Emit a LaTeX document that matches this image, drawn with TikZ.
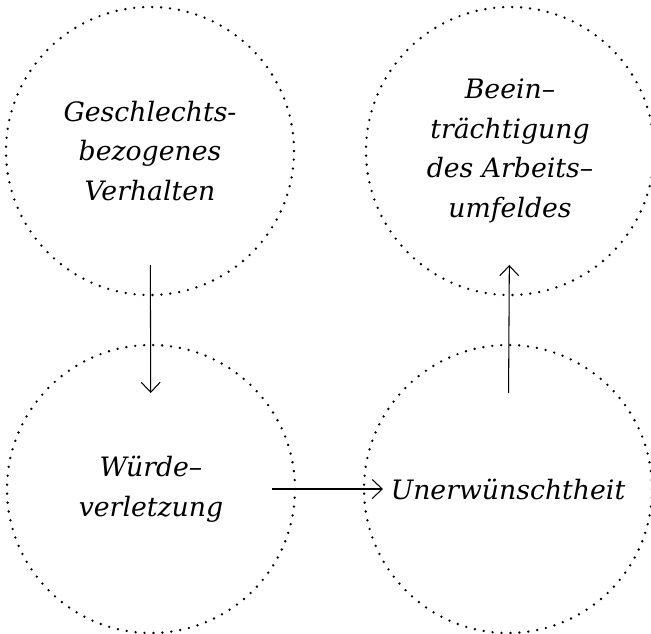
\documentclass[tikz,border=0pt]{standalone}
\usepackage{fontspec}
\setmainfont{DejaVu Serif}
\usetikzlibrary{arrows.meta,positioning}

\begin{document}
\begin{tikzpicture}[circ/.style={draw,circle,minimum size=5.76cm,inner sep=0pt,line width=1.5pt,dash pattern=on 0pt off 5.1pt,line cap=round,align=center,font=\itshape\fontsize{15.2}{22.6}\selectfont},arr/.style={-{Straight Barb[length=2mm,width=3.8mm]},line width=0.6pt}]
\useasboundingbox (0,0) rectangle (13.02,-12.66);
\node[circ] (ges) at (3.0,-3.02) {Geschlechts-\\bezogenes\\Verhalten};
\node[circ] (bee) at (10.2,-3.02) {Beein--\\trächtigung\\des Arbeits--\\umfeldes};
\node[circ] (wue) at (3.02,-9.78) {Würde--\\verletzung};
\node[circ] (une) at (10.16,-9.78) {Unerwünschtheit};
\draw[arr,shorten <=2.28cm,shorten >=1.92cm](ges.center)--(wue.center);\draw[arr,shorten <=2.42cm,shorten >=2.5cm](wue.center)--(une.center);\draw[arr,shorten <=1.92cm,shorten >=2.28cm](une.center)--(bee.center);
\end{tikzpicture}
\end{document}
